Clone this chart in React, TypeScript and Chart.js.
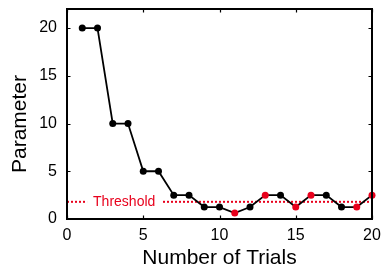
import React, { useEffect, useRef } from "react";
import { Chart, registerables } from "chart.js";

Chart.register(...registerables);

const trials = [1, 2, 3, 4, 5, 6, 7, 8, 9, 10, 11, 12, 13, 14, 15, 16, 17, 18, 19, 20];
const parameterValues = [20, 20, 10, 10, 5, 5, 2.5, 2.5, 1.25, 1.25, 0.625, 1.25, 2.5, 2.5, 1.25, 2.5, 2.5, 1.25, 1.25, 2.5];
const reversalTrials = [11, 13, 15, 16, 19, 20];
const thresholdValue = 1.8;
const thresholdRange = [0, 20];
const thresholdLabel = "Threshold";
const thresholdLabelX = 3.75;
const xTicks = [0, 5, 10, 15, 20];
const yTicks = [0, 5, 10, 15, 20];
const xTitle = "Number of Trials";
const yTitle = "Parameter";

const RED = "#e8001c";
const FONT = "'Liberation Sans', Arial, sans-serif";

const zeroPad = (s: any) => {
  s.paddingLeft = 0;
  s.paddingRight = 0;
  s.paddingTop = 0;
  s.paddingBottom = 0;
};

const framePlugin = {
  id: "frame",
  afterDraw(chart: any) {
    const { ctx, chartArea } = chart;
    const { left, right, top, bottom } = chartArea;
    const xs = chart.scales.x;
    const ys = chart.scales.y;
    ctx.save();
    ctx.strokeStyle = "#000";
    ctx.lineWidth = 2;
    ctx.strokeRect(left, top, right - left, bottom - top);
    ctx.lineWidth = 1.2;
    const tl = 3.5;
    ctx.beginPath();
    xTicks.forEach((v) => {
      const px = Math.round(xs.getPixelForValue(v)) + 0.5;
      ctx.moveTo(px, bottom);
      ctx.lineTo(px, bottom - tl);
      ctx.moveTo(px, top);
      ctx.lineTo(px, top + tl);
    });
    yTicks.forEach((v) => {
      const py = Math.round(ys.getPixelForValue(v)) + 0.5;
      ctx.moveTo(left, py);
      ctx.lineTo(left + tl, py);
      ctx.moveTo(right, py);
      ctx.lineTo(right - tl, py);
    });
    ctx.stroke();
    ctx.restore();
  },
};

const labelPlugin = {
  id: "labels",
  afterDatasetsDraw(chart: any) {
    const { ctx, chartArea } = chart;
    const xs = chart.scales.x;
    const ys = chart.scales.y;
    ctx.save();
    ctx.font = `14px ${FONT}`;
    const w = ctx.measureText(thresholdLabel).width;
    const cx = xs.getPixelForValue(thresholdLabelX);
    const cy = ys.getPixelForValue(thresholdValue);
    ctx.fillStyle = "#ffffff";
    ctx.fillRect(cx - w / 2 - 6, cy - 3, w + 12, 6);
    ctx.fillStyle = RED;
    ctx.textAlign = "center";
    ctx.textBaseline = "middle";
    ctx.fillText(thresholdLabel, cx, cy + 0.5);
    ctx.font = `21px ${FONT}`;
    ctx.fillStyle = "#000";
    ctx.translate(20, (chartArea.top + chartArea.bottom) / 2 + 10);
    ctx.rotate(-Math.PI / 2);
    ctx.fillText(yTitle, 0, 0);
    ctx.restore();
  },
};

export default function App() {
  const ref = useRef<HTMLCanvasElement | null>(null);
  useEffect(() => {
    document.body.style.margin = "0";
    const canvas = ref.current;
    if (!canvas) return;
    const chart = new Chart(canvas, {
      type: "line",
      data: {
        datasets: [
          {
            label: "threshold",
            data: thresholdRange.map((x) => ({ x, y: thresholdValue })),
            borderColor: RED,
            borderWidth: 2,
            borderDash: [2, 2],
            pointRadius: 0,
            fill: false,
            order: 2,
          },
          {
            label: "parameter",
            data: trials.map((t, i) => ({ x: t, y: parameterValues[i] })),
            borderColor: "#000",
            borderWidth: 1.8,
            pointRadius: 3.5,
            pointBorderWidth: 0,
            pointBackgroundColor: trials.map((t) => (reversalTrials.includes(t) ? RED : "#000")),
            pointBorderColor: trials.map((t) => (reversalTrials.includes(t) ? RED : "#000")),
            fill: false,
            tension: 0,
            clip: false,
            order: 1,
          } as any,
        ],
      },
      options: {
        animation: false,
        responsive: false,
        maintainAspectRatio: false,
        layout: { padding: { top: 9, right: 10, left: 0, bottom: 0 } },
        plugins: { legend: { display: false }, tooltip: { enabled: false } },
        scales: {
          x: {
            type: "linear",
            min: 0,
            max: 20,
            grid: { display: false, drawTicks: false },
            border: { display: false },
            afterBuildTicks: (s: any) => {
              s.ticks = xTicks.map((v) => ({ value: v }));
            },
            afterFit: (s: any) => {
              s.height = 52;
              zeroPad(s);
            },
            ticks: {
              padding: 7,
              color: "#000",
              font: { family: FONT, size: 16 },
              maxRotation: 0,
            },
            title: {
              display: true,
              text: xTitle,
              color: "#000",
              font: { family: FONT, size: 21 },
              padding: { top: 0, bottom: 0 },
            },
          },
          y: {
            type: "linear",
            min: 0,
            max: 22,
            grid: { display: false, drawTicks: false },
            border: { display: false },
            afterBuildTicks: (s: any) => {
              s.ticks = yTicks.map((v) => ({ value: v }));
            },
            afterFit: (s: any) => {
              s.width = 67;
              zeroPad(s);
            },
            ticks: {
              padding: 10,
              color: "#000",
              font: { family: FONT, size: 16 },
            },
          },
        },
      },
      plugins: [labelPlugin, framePlugin],
    });
    return () => chart.destroy();
  }, []);
  return (
    <div style={{ width: 382, height: 271 }}>
      <canvas ref={ref} width={382} height={271} style={{ display: "block" }} />
    </div>
  );
}
